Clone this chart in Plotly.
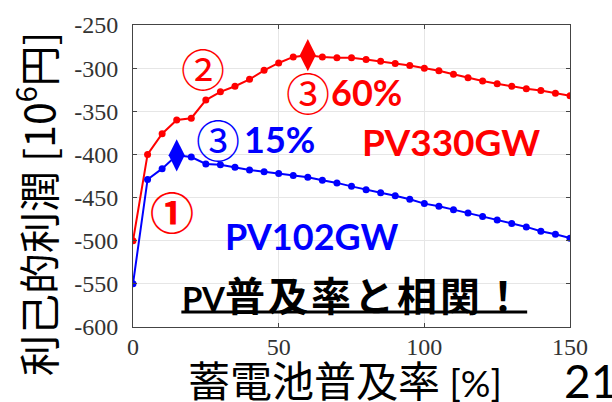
import plotly.graph_objects as go

# Storage penetration rate [%] and selfish profit [10^6 yen]
penetration = list(range(0, 151, 5))
profit_pv330 = [-500, -400, -376, -360, -358, -337, -327.5, -321, -313, -302.5,
                -294, -287, -285, -287, -288, -288, -290, -292, -294.5, -297,
                -300, -303, -307, -311, -315, -318, -321, -324, -326, -329, -332]
profit_pv102 = [-550, -429, -416.5, -401, -403, -411, -412, -415, -418, -420,
                -422, -424.5, -426.5, -430, -433, -437, -441, -444.5, -448, -452,
                -457, -460, -464, -468, -472, -476, -480, -484, -489, -492.5, -497]

# Optimum points marked with diamonds
opt_pv330 = (60, -285)
opt_pv102 = (15, -401)

y_ticks = [-600, -550, -500, -450, -400, -350, -300, -250]
x_ticks = [0, 50, 100, 150]

RED = "#ff0000"
BLUE = "#0000ff"
JP = "Noto Sans CJK JP"
LAT = "Lato"

fig = go.Figure()
for y, c in [(profit_pv330, RED), (profit_pv102, BLUE)]:
    fig.add_trace(go.Scatter(x=penetration, y=y, mode="lines+markers",
                             line=dict(color=c, width=2),
                             marker=dict(color=c, size=7), showlegend=False))
for (px, py), c in [(opt_pv330, RED), (opt_pv102, BLUE)]:
    fig.add_trace(go.Scatter(x=[px], y=[py], mode="markers",
                             marker=dict(symbol="diamond-tall", color=c, size=23),
                             showlegend=False))

axis_common = dict(showline=True, linecolor="#444", linewidth=1, mirror="ticks",
                   ticks="inside", ticklen=4, tickcolor="#444",
                   showgrid=True, gridcolor="#e6e6e6", gridwidth=1, zeroline=False,
                   tickfont=dict(family="Liberation Serif", size=24, color="#333"))
fig.update_xaxes(range=[0, 150], tickvals=x_ticks, ticktext=[str(v) for v in x_ticks],
                 ticklabelstandoff=-2, **axis_common)
fig.update_yaxes(range=[-600, -250], tickvals=y_ticks, ticktext=[str(v) for v in y_ticks],
                 ticklabelstandoff=9, **axis_common)


def label(x, y, text, color, size=36, xanchor="center", family=LAT):
    fig.add_annotation(x=x, y=y, text=text, showarrow=False, xanchor=xanchor,
                       yanchor="middle", font=dict(family=family, size=size, color=color))


# Circled step numbers
label(23.9, -299.5, "②", RED, 44, family=JP)
label(13.4, -465.6, "<b>①</b>", RED, 44, family=JP)
label(60.0, -327.5, "③", RED, 44, family=JP)
label(29.3, -382.6, "③", BLUE, 44, family=JP)

# Text labels
label(67.4, -327.5, "<b>60%</b>", RED, 36, "left")
label(37.4, -382.6, "<b>15%</b>", BLUE, 36, "left")
label(77.8, -385, "<b>PV330GW</b>", RED, 37, "left")
label(31.0, -494.4, "<b>PV102GW</b>", BLUE, 36, "left")
label(16.3, -561.5,
      "<b><span style='font-family:Lato;font-size:33px'>PV</span>"
      "<span style='letter-spacing:3px'>普及率と相関！</span></b>",
      "black", 40, "left", family=JP)
fig.add_shape(type="line", x0=16.6, x1=135.3, y0=-582.7, y1=-582.7,
              line=dict(color="black", width=3))

# Axis titles and page number
fig.add_annotation(xref="paper", yref="paper", x=-0.224, y=0.408, textangle=-90,
                   xanchor="center", yanchor="middle",
                   text="利己的利潤 [10<sup>6</sup>円]", showarrow=False,
                   font=dict(family=JP, size=41, color="black"))
fig.add_annotation(xref="paper", yref="paper", x=0.122, y=-0.172,
                   xanchor="left", yanchor="middle",
                   text="蓄電池普及率<span style='font-family:Lato;font-size:37px'> [%]</span>",
                   showarrow=False,
                   font=dict(family=JP, size=42, color="black"))
fig.add_annotation(xref="paper", yref="paper", x=0.982, y=-0.178,
                   xanchor="left", yanchor="middle",
                   text="21", showarrow=False,
                   font=dict(family=LAT, size=46, color="black"))

fig.update_layout(width=612, height=402, margin=dict(l=133, r=42, t=23, b=75),
                  plot_bgcolor="white", paper_bgcolor="white")
fig.write_html("out.html")
